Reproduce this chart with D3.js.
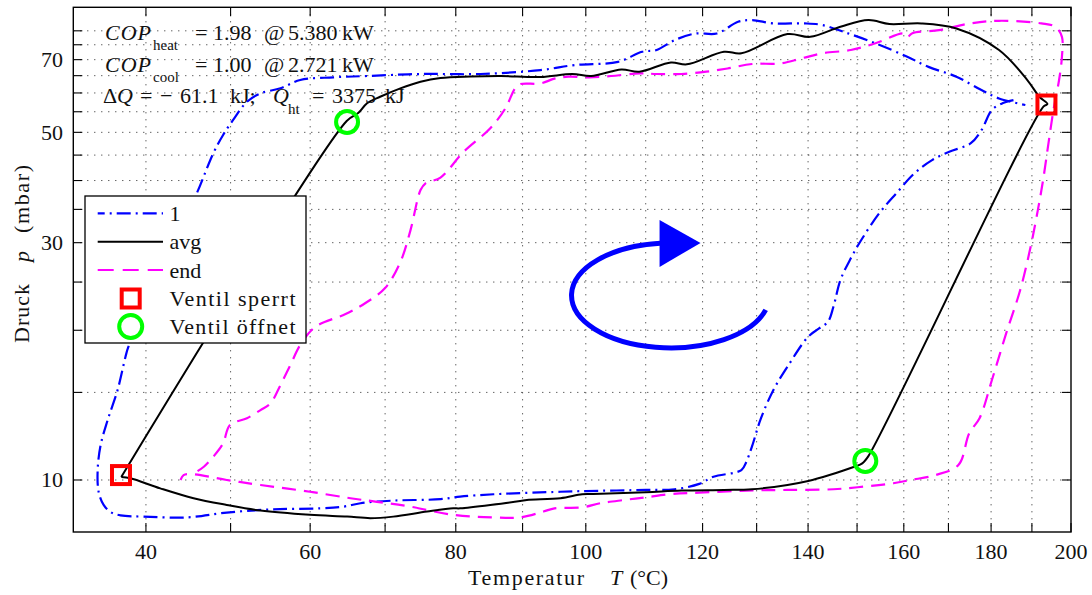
<!DOCTYPE html>
<html><head><meta charset="utf-8">
<script src="https://cdn.jsdelivr.net/npm/d3@7"></script>
<style>
body{margin:0;background:#fff}
text{font-family:"Liberation Serif","Times New Roman",serif;fill:#111}
</style>
</head><body>
<svg id="chart" width="1092" height="595"></svg>
<script>
// ---------- data ----------
const xTickValues = [40,50,60,70,80,90,100,110,120,130,140,150,160,170,180,190,200];
const xTickLabels = [40,60,80,100,120,140,160,180,200];
const yTickValues = [10,15,20,25,30,35,40,45,50,55,60,65,70,75,80];
const yTickLabels = [10,30,50,70];

// series "1" (dash-dot blue)
const run1T = [185.43,182.74,180.2,177.7,175.12,170.19,166.28,162.33,158.37,154.67,150.88,148.69,146.55,145.12,144.0,142.2,140.02,135.93,133.21,130.78,129.11,128.06,127.13,121.96,119.4,114.99,110.05,100.05,95.93,85.58,80.64,77.78,71.12,66.65,64.38,61.31,55.32,49.53,44.81,39.67,37.12,36.01,35.23,34.68,34.57,34.9,35.68,36.79,37.67,38.0,40.47,43.42,45.99,47.91,49.09,50.29,52.01,53.69,56.2,58.72,63.04,67.54,74.94,83.64,92.77,98.31,105.32,109.38,111.89,114.99,118.7,122.59,126.51,129.11,133.21,139.36,142.88,147.24,153.88,160.76,165.47,171.83,177.7,181.91,188.36];
const run1P = [58.05,57.2,55.45,50.5,47.5,45.7,43.97,41.35,37.7,34.36,30.37,27.9,25.24,22.3,20.8,20.17,19.41,16.89,15.17,13.27,11.67,10.88,10.47,10.15,9.82,9.58,9.55,9.50,9.47,9.36,9.26,9.15,9.09,8.98,8.84,8.77,8.73,8.60,8.41,8.44,8.49,8.62,8.91,9.46,10.47,11.76,13.2,15.17,17.67,18.51,23.0,30.37,37.9,45.4,49.4,52.9,57.6,59.9,61.3,63.7,64.5,64.9,65.5,65.5,66.7,68.3,69.3,72.6,73.2,76.6,79.0,79.0,83.4,84.07,82.8,82.8,82.16,79.6,75.5,70.95,67.7,64.7,60.8,58.5,56.75];

// series "avg" (solid black)
const avgT = [37.2,64.8,66.38,67.54,69.32,72.11,74.94,77.78,82.14,86.63,92.77,97.83,100.88,105.88,108.88,114.37,117.18,123.9,127.13,135.93,140.43,146.55,152.38,156.87,163.9,171.83,181.91,188.85,191.87,193.92,192.9,152.38,151.09,149.41,144.31,140.02,135.93,129.11,123.9,116.23,110.05,101.22,99.41,95.93,90.66,89.63,80.64,79.62,75.89,71.12,67.98,64.87,59.97,53.69,49.53,45.55,41.65,38.23,37.2];
const avgP = [10.14,52.68,54.75,57.2,58.95,61.3,63.2,64.3,64.75,64.9,64.6,65.5,64.9,66.9,66.2,69.1,68.5,72.6,72.1,78.8,77.8,81.5,84.07,82.54,82.8,80.88,73.2,63.7,58.95,57.0,56.3,11.17,10.8,10.63,10.23,9.95,9.77,9.58,9.55,9.52,9.45,9.37,9.36,9.19,9.12,9.07,8.77,8.77,8.64,8.44,8.38,8.44,8.51,8.68,8.91,9.19,9.62,10.08,10.14];

// series "end" (dashed magenta)
const endT = [46.02,46.77,47.91,49.09,49.92,52.01,53.69,54.94,56.2,57.46,58.72,60.64,64.65,67.32,70.0,72.11,73.53,74.94,75.65,77.78,81.09,85.13,87.38,88.88,89.63,92.77,94.98,97.2,100.55,104.15,108.88,111.89,116.23,120.67,124.55,129.11,134.57,138.66,142.88,148.69,153.88,159.96,160.76,161.88,167.87,175.12,181.91,192.38,195.97,197.64,197.64,196.9,195.46,194.18,192.82,191.49,189.68,187.09,183.64,180.2,177.28,174.81,172.3,167.04,161.52,157.73,150.13,145.12,135.93,128.02,119.4,114.37,110.05,106.5,102.38,99.41,94.98,93.24,89.63,85.58,79.62,73.53,68.88,65.31,59.97,53.69,49.53,45.2,44.37,44.01];
const endP = [10.42,10.63,11.14,11.85,12.9,13.31,13.82,14.26,15.52,17.03,18.68,20.3,21.56,22.69,24.32,27.43,31.8,38.28,39.5,40.55,45.6,51.0,55.9,61.4,62.5,62.7,64.1,64.7,64.5,64.9,65.7,65.5,65.5,66.2,67.2,68.6,68.8,70.4,72.1,73.2,75.5,79.0,77.7,79.1,80.25,82.8,83.8,82.8,81.5,77.8,70.95,63.7,55.45,47.5,40.09,34.88,29.44,24.1,19.71,15.89,13.33,12.41,10.72,10.23,10.0,9.85,9.67,9.58,9.55,9.52,9.43,9.37,9.23,9.12,8.98,8.81,8.77,8.64,8.41,8.41,8.51,8.84,9.04,9.19,9.47,9.77,10.0,10.28,10.23,10.0];

// valve events
const valveClosedT = [37.17, 193.67];
const valveClosedP = [10.23, 56.87];
const valveOpenT = [64.85, 151.73];
const valveOpenP = [52.45, 10.92];

// cycle-direction arrow anchor (data coords)
const arrowCenterT = 114.3, arrowCenterP = 23.5;

// ---------- scales ----------
const svg = d3.select("#chart");
const P = {l:73.3, r:1071, t:7.3, b:532};
const K0 = 273.15;
const xs = d3.scaleLinear().domain([1/(31.9+K0), 1/(200+K0)]).range([P.l, P.r]);
const X = T => xs(1/(T+K0));
const Y = d3.scaleLog().domain([7.86, 89.2]).range([P.b, P.t]);

svg.append("rect").attr("width",1092).attr("height",595).attr("fill","#fff");

// grid
const grid = svg.append("g").attr("stroke","#222").attr("stroke-width",1).attr("stroke-dasharray","1,6");
xTickValues.filter(v=>v<200).forEach(v=>{
  grid.append("line").attr("x1",X(v)).attr("x2",X(v)).attr("y1",P.t).attr("y2",P.b);
});
yTickValues.forEach(v=>{
  grid.append("line").attr("x1",P.l).attr("x2",P.r).attr("y1",Y(v)).attr("y2",Y(v));
});

// ticks
const tk = svg.append("g").attr("stroke","#000").attr("stroke-width",1.1);
const TL = 9;
xTickValues.forEach(v=>{
  tk.append("line").attr("x1",X(v)).attr("x2",X(v)).attr("y1",P.b).attr("y2",P.b-TL);
  tk.append("line").attr("x1",X(v)).attr("x2",X(v)).attr("y1",P.t).attr("y2",P.t+TL);
});
yTickValues.forEach(v=>{
  tk.append("line").attr("x1",P.l).attr("x2",P.l+TL).attr("y1",Y(v)).attr("y2",Y(v));
  tk.append("line").attr("x1",P.r).attr("x2",P.r-TL).attr("y1",Y(v)).attr("y2",Y(v));
});

// tick labels
xTickLabels.forEach(v=>{
  svg.append("text").attr("x",X(v)).attr("y",559).attr("text-anchor","middle")
    .attr("font-size",22).text(v);
});
yTickLabels.forEach(v=>{
  svg.append("text").attr("x",63).attr("y",Y(v)+7.5).attr("text-anchor","end")
    .attr("font-size",22).text(v);
});

// curves
const line = (Ts,Ps) => d3.line().curve(d3.curveCatmullRom.alpha(0.5))
  .x((d,i)=>X(Ts[i])).y((d,i)=>Y(Ps[i]))(Ts);
const curves = svg.append("g").attr("fill","none").attr("stroke-linejoin","round");
curves.append("path").attr("d",line(run1T,run1P)).attr("stroke","#0000ff")
  .attr("stroke-width",2.2).attr("stroke-dasharray","14,5,2,5");
curves.append("path").attr("d",line(endT,endP)).attr("stroke","#ff00ff")
  .attr("stroke-width",2.2).attr("stroke-dasharray","14,8");
curves.append("path").attr("d",line(avgT,avgP)).attr("stroke","#000")
  .attr("stroke-width",2);

// markers
const SQ = 18, CR = 11;
valveClosedT.forEach((t,i)=>{
  svg.append("rect").attr("x",X(t)-SQ/2).attr("y",Y(valveClosedP[i])-SQ/2)
    .attr("width",SQ).attr("height",SQ).attr("fill","none").attr("stroke","#ff0000").attr("stroke-width",4);
});
valveOpenT.forEach((t,i)=>{
  svg.append("circle").attr("cx",X(t)).attr("cy",Y(valveOpenP[i])).attr("r",CR)
    .attr("fill","none").attr("stroke","#00ff00").attr("stroke-width",4);
});

// cycle arrow
(function(){
  const cx = X(arrowCenterT), cy = Y(arrowCenterP), rx = 99, ry = 52.5;
  const a0 = 16*Math.PI/180, a1 = 264*Math.PI/180;
  const x0 = cx+rx*Math.cos(a0), y0 = cy+ry*Math.sin(a0);
  const x1 = cx+rx*Math.cos(a1), y1 = cy+ry*Math.sin(a1);
  svg.append("path").attr("d",`M${x0},${y0} A${rx},${ry} 0 1 1 ${x1},${y1}`)
    .attr("fill","none").attr("stroke","#0000ff").attr("stroke-width",5);
  svg.append("path").attr("d",`M${cx-11},${cy-75.5} L${cx-11},${cy-28.5} L${cx+30},${cy-52.5} Z`)
    .attr("fill","#0000ff");
})();

// legend
const legendLabels = ["1","avg","end","Ventil sperrt","Ventil öffnet"];
const lg = svg.append("g");
lg.append("rect").attr("x",85).attr("y",196).attr("width",221).attr("height",147)
  .attr("fill","#fff").attr("stroke","#000").attr("stroke-width",1.3);
const rowsY = [213.3,241.7,270,298.5,326.5];
lg.append("line").attr("x1",97.7).attr("x2",163).attr("y1",rowsY[0]).attr("y2",rowsY[0])
  .attr("stroke","#0000ff").attr("stroke-width",2.2).attr("stroke-dasharray","14,5,2,5").attr("stroke-dashoffset",-19);
lg.append("line").attr("x1",97.7).attr("x2",163).attr("y1",rowsY[1]).attr("y2",rowsY[1])
  .attr("stroke","#000").attr("stroke-width",2);
lg.append("line").attr("x1",97.7).attr("x2",163).attr("y1",rowsY[2]).attr("y2",rowsY[2])
  .attr("stroke","#ff00ff").attr("stroke-width",2.2).attr("stroke-dasharray","16,9");
lg.append("rect").attr("x",130.7-SQ/2).attr("y",rowsY[3]-SQ/2).attr("width",SQ).attr("height",SQ)
  .attr("fill","none").attr("stroke","#ff0000").attr("stroke-width",4);
lg.append("circle").attr("cx",130.7).attr("cy",rowsY[4]).attr("r",CR+0.5)
  .attr("fill","none").attr("stroke","#00ff00").attr("stroke-width",4);
legendLabels.forEach((s,i)=>{
  const t = lg.append("text").attr("x",169.5).attr("y",rowsY[i]+7.5).attr("font-size",22).text(s);
  if (i>=3) t.attr("textLength",126).attr("lengthAdjust","spacing");
});

// annotation text
function piece(x,y,s,opt={}){
  const t = svg.append("text").attr("x",x).attr("y",y).attr("font-size",opt.size||22).text(s);
  if (opt.italic) t.attr("font-style","italic");
  if (opt.len) t.attr("textLength",opt.len).attr("lengthAdjust","spacing");
  return t;
}
piece(105,40,"COP",{italic:true,len:46});
piece(153,50,"heat",{size:15});
piece(195,40,"=");
piece(213,40,"1.98");
piece(264,40,"@");
piece(288,40,"5.380");
piece(342,40,"kW");

piece(105,72,"COP",{italic:true,len:46});
piece(153,82,"cool",{size:15});
piece(195,72,"=");
piece(213,72,"1.00");
piece(264,72,"@");
piece(288,72,"2.721");
piece(342,72,"kW");

piece(103,103,"Δ");
piece(117,103,"Q",{italic:true});
piece(140,103,"=");
piece(160,103,"−");
piece(180,103,"61.1");
piece(230,103,"kJ;");
piece(273,103,"Q",{italic:true});
piece(288,114,"ht",{size:15});
piece(312,103,"=");
piece(332,103,"3375");
piece(385,103,"kJ");

// axis titles
const xl = svg.append("text").attr("y",585).attr("font-size",22);
xl.append("tspan").attr("x",468).text("Temperatur").attr("textLength",116).attr("lengthAdjust","spacing");
xl.append("tspan").attr("x",610).attr("font-style","italic").text("T");
xl.append("tspan").attr("x",630).text("(°C)");

const yl = svg.append("text").attr("transform","translate(29,343) rotate(-90)").attr("font-size",22);
yl.append("tspan").attr("x",0).text("Druck").attr("textLength",59).attr("lengthAdjust","spacing");
yl.append("tspan").attr("x",81).attr("font-style","italic").text("p");
yl.append("tspan").attr("x",110).text("(mbar)").attr("textLength",68).attr("lengthAdjust","spacing");

// frame
svg.append("rect").attr("x",P.l).attr("y",P.t).attr("width",P.r-P.l).attr("height",P.b-P.t)
  .attr("fill","none").attr("stroke","#000").attr("stroke-width",1.4);
</script>
</body></html>
